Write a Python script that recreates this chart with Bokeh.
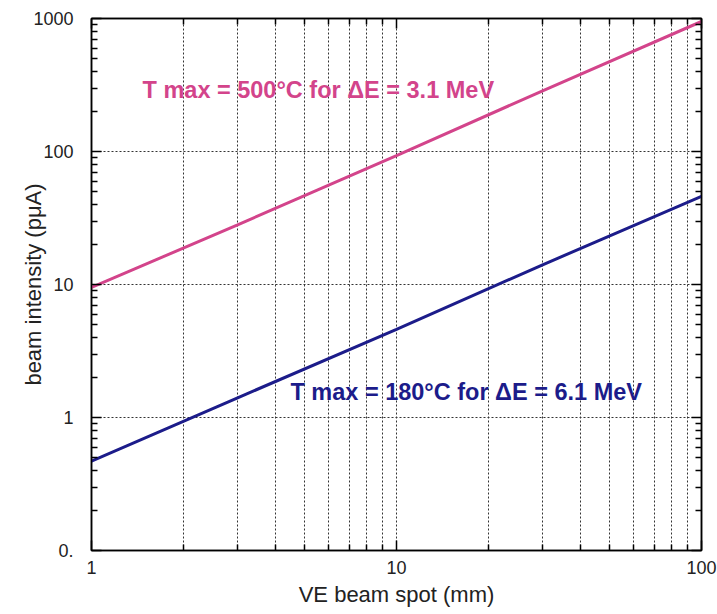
from bokeh.plotting import figure
from bokeh.models import Range1d, FixedTicker, LogAxis, Label
from bokeh.embed import file_html
from bokeh.resources import INLINE

# ---- data ----
spot_mm = [1, 3, 10, 30, 100]
intensity_500C = [9.5, 28, 93, 285, 950]
intensity_180C = [0.47, 1.4, 4.6, 14, 46]

x_major = [1, 10, 100]
x_major_labels = ["1", "10", "100"]
x_minor = [2, 3, 4, 5, 6, 7, 8, 9, 20, 30, 40, 50, 60, 70, 80, 90]
y_major = [0.1, 1, 10, 100, 1000]
y_major_labels = ["0.", "1", "10", "100", "1000"]
y_minor = [0.2, 0.3, 0.4, 0.5, 0.6, 0.7, 0.8, 0.9,
           2, 3, 4, 5, 6, 7, 8, 9,
           20, 30, 40, 50, 60, 70, 80, 90,
           200, 300, 400, 500, 600, 700, 800, 900]

label_500 = "T max = 500°C for ΔE = 3.1 MeV"
label_180 = "T max = 180°C for ΔE = 6.1 MeV"

PINK = "#d3448b"
BLUE = "#1c1c8a"
FONT = "Liberation Sans"
GRID = "#333333"

p = figure(width=717, height=614, x_axis_type="log", y_axis_type="log",
           x_range=Range1d(1, 100), y_range=Range1d(0.1, 1000),
           output_backend="svg", toolbar_location=None,
           frame_width=610, frame_height=532,
           min_border_left=91, min_border_right=16,
           min_border_top=18, min_border_bottom=64)
p.background_fill_color = "white"
p.border_fill_color = "white"
p.outline_line_color = "black"
p.outline_line_width = 1.5

xt = FixedTicker(ticks=x_major, minor_ticks=x_minor)
yt = FixedTicker(ticks=y_major, minor_ticks=y_minor)

def style_axis(ax, ticker):
    ax.ticker = ticker
    ax.axis_line_color = "black"
    ax.axis_line_width = 1.5
    ax.major_tick_in = 10
    ax.major_tick_out = 0
    ax.minor_tick_in = 6
    ax.minor_tick_out = 0
    ax.major_tick_line_color = "black"
    ax.minor_tick_line_color = "black"
    ax.major_tick_line_width = 1.5
    ax.minor_tick_line_width = 1.5
    ax.major_label_text_font = FONT
    ax.major_label_text_font_size = "18px"
    ax.major_label_text_color = "#222222"
    ax.axis_label_text_font = FONT
    ax.axis_label_text_font_size = "22px"
    ax.axis_label_text_font_style = "normal"
    ax.axis_label_text_color = "#222222"

xa = p.xaxis[0]
ya = p.yaxis[0]
style_axis(xa, xt)
style_axis(ya, yt)
xa.major_label_overrides = {v: s for v, s in zip(x_major, x_major_labels)}
ya.major_label_overrides = {v: s for v, s in zip(y_major, y_major_labels)}
xa.major_label_standoff = 10
ya.major_label_standoff = 18
xa.axis_label = "VE beam spot (mm)"
ya.axis_label = "beam intensity (pμA)"
xa.axis_label_standoff = 5
ya.axis_label_standoff = -16

ra = LogAxis()
ta = LogAxis()
for ax, t in ((ra, yt), (ta, xt)):
    style_axis(ax, t)
    ax.major_label_text_font_size = "1px"
    ax.major_label_text_alpha = 0
    ax.major_label_standoff = 0
p.add_layout(ra, "right")
p.add_layout(ta, "above")

# grids
p.xgrid.ticker = xt
p.ygrid.ticker = yt
for g in (p.xgrid[0], p.ygrid[0]):
    g.grid_line_color = GRID
    g.grid_line_dash = "2 2"
    g.grid_line_width = 1
p.xgrid.minor_grid_line_color = GRID
p.xgrid.minor_grid_line_dash = "2 2"
p.xgrid.minor_grid_line_width = 1

p.line(spot_mm, intensity_500C, line_color=PINK, line_width=3)
p.line(spot_mm, intensity_180C, line_color=BLUE, line_width=3)

p.add_layout(Label(x=1.47, y=288, text=label_500, text_color=PINK,
                   text_font=FONT, text_font_size="23.5px", text_font_style="bold",
                   text_align="left", text_baseline="middle"))
p.add_layout(Label(x=4.49, y=1.56, text=label_180, text_color=BLUE,
                   text_font=FONT, text_font_size="23.5px", text_font_style="bold",
                   text_align="left", text_baseline="middle"))

open("out.html", "w").write(file_html(p, INLINE))
